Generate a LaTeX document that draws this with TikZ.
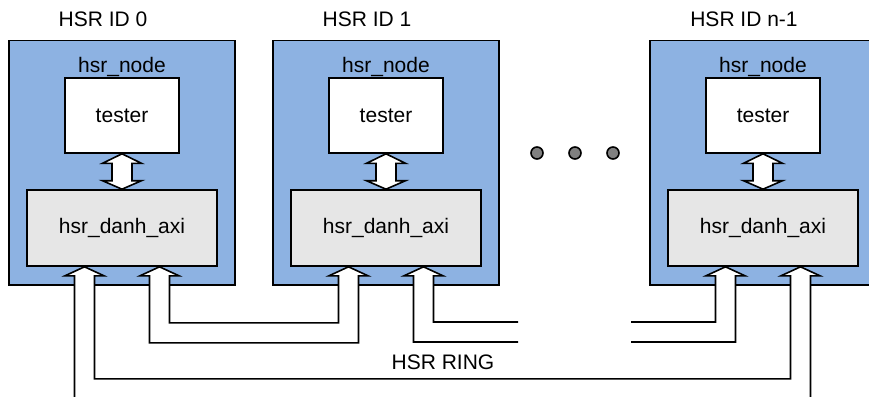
\documentclass[tikz,border=0pt]{standalone}
\usepackage{fontspec}
\setmainfont{Liberation Sans}
\usetikzlibrary{calc}
\definecolor{nodeblue}{RGB}{141,178,226}
\definecolor{axigray}{RGB}{230,230,230}
\definecolor{dotgray}{RGB}{128,128,128}
\newcommand\hsrbox[3]{%
  \node[outerbox] (o#1) at (#2,162.75) {};
  \node (id#1) at (#2-19,19) {#3};
  \node (hn#1) at (#2,67) {hsr\_node};
  \node[testerbox] (t#1) at (#2,115.5) {tester};
  \node[axibox] (d#1) at (#2,228) {hsr\_danh\_axi};
  \draw[pipe] (t#1.south) -- ++(19.5,9.5) -- ++(-9.5,0) -- ($(d#1.north)+(10,-8.5)$)
     -- ++(9.5,0) -- (d#1.north) -- ++(-19.5,-8.5) -- ++(9.5,0)
     -- ($(t#1.south)+(-10,9.5)$) -- ++(-9.5,0) -- cycle;
  \coordinate (A#1) at ($(d#1.south)+(-37.5,0)$);
  \coordinate (B#1) at ($(d#1.south)+(37.5,0)$);
}
\begin{document}
\begin{tikzpicture}[x=1pt,y=-1pt,line width=1.6pt,
  every node/.style={font=\fontsize{21}{25}\selectfont, inner sep=0pt},
  outerbox/.style={draw, fill=nodeblue, minimum width=226pt, minimum height=244.5pt},
  testerbox/.style={draw, fill=white, minimum width=114pt, minimum height=75pt},
  axibox/.style={draw, fill=axigray, minimum width=190pt, minimum height=76pt},
  pipe/.style={draw, fill=white, line join=miter},
  dotc/.style={circle, draw, fill=dotgray, minimum size=12pt}]
\useasboundingbox (0,0) rectangle (869,396);
\clip (0,0) rectangle (869,396);
\fill[white] (0,0) rectangle (869,396);

\hsrbox{0}{122}{HSR ID 0}
\hsrbox{1}{386}{HSR ID 1}
\hsrbox{2}{763}{HSR ID n-1}

\node[dotc] (dot1) at (537,153) {};
\node[dotc] (dot2) at (575,153) {};
\node[dotc] (dot3) at (613,153) {};

\coordinate (gapL) at (518,322);
\coordinate (gapR) at (631,322);

% pipe between node 0 and node 1
\draw[pipe] (B0) -- ++(19.5,9) -- ++(-9.5,0) |- ($(A1)+(-10,56)$) -- ++(0,-47)
  -- ++(-9.5,0) -- (A1) -- ++(19.5,9) -- ++(-9.5,0) |- ($(B0)+(-10,76)$)
  -- ++(0,-67) -- ++(-9.5,0) -- cycle;
% pipe leaving node 1
\draw[pipe] (gapL) -| ($(B1)+(10,9)$) -- ++(9.5,0) -- (B1) -- ++(-19.5,9)
  -- ++(9.5,0) |- ($(gapL)+(0,20)$);
% pipe entering node n-1
\draw[pipe] (gapR) -| ($(A2)+(-10,9)$) -- ++(-9.5,0) -- (A2) -- ++(19.5,9)
  -- ++(-9.5,0) |- ($(gapR)+(0,20)$);
% outer ring
\draw[pipe] ($(A0)+(-10,134)$) -- ++(0,-125) -- ++(-9.5,0) -- (A0) -- ++(19.5,9)
  -- ++(-9.5,0) |- ($(B2)+(-10,112)$) -- ++(0,-103) -- ++(-9.5,0) -- (B2)
  -- ++(19.5,9) -- ++(-9.5,0) -- ++(0,125);

\node (ring) at (443,362) {HSR RING};
\end{tikzpicture}
\end{document}
